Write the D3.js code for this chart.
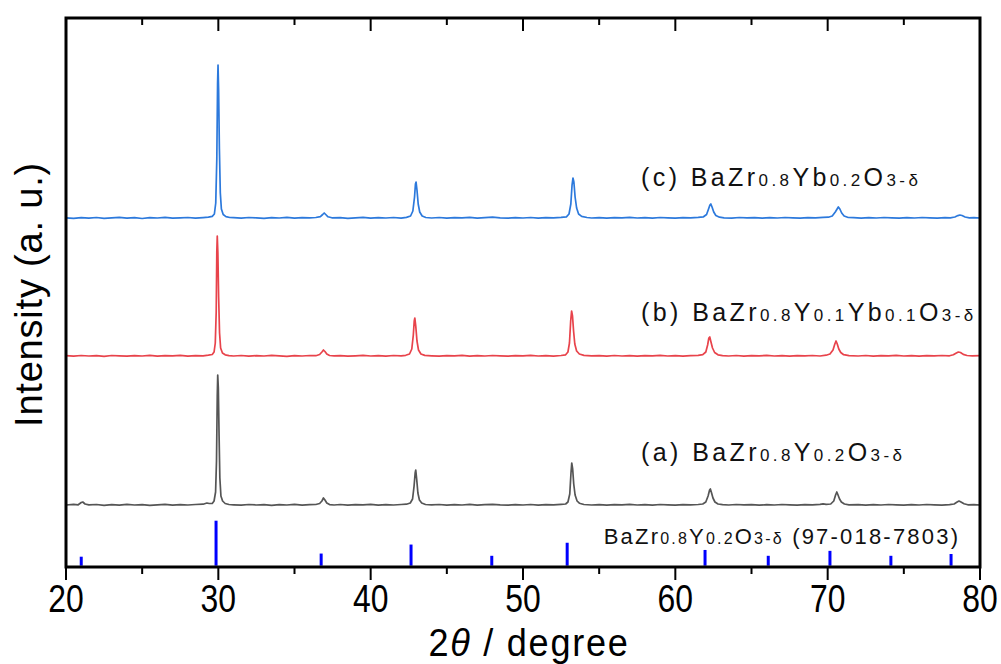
<!DOCTYPE html>
<html>
<head>
<meta charset="utf-8">
<script src="https://cdn.jsdelivr.net/npm/d3@7"></script>
<style>
    body { margin: 0; background: #fff; }
    text { font-family: "Liberation Sans", Arial, sans-serif; }
</style>
</head>
<body>
<div id="chart"></div>
<script>

// x ticks
const majorTicks = [20, 30, 40, 50, 60, 70, 80]
const minorTicks = [25, 35, 45, 55, 65, 75]

// reference pattern BaZr0.8Y0.2O3-d (97-018-7803), relative intensity %
const refPos = [21.0, 29.85, 36.75, 42.65, 47.95, 52.9, 61.95, 66.1, 70.15, 74.15, 78.1]
const refInt = [20, 100, 27, 47, 22, 51, 35, 22, 33, 22, 26]

// vertical offsets of the three patterns (a.u.)
const offsets = {a: 61, b: 210, c: 348}

// (a) BaZr0.8Y0.2O3-d  [2theta, intensity]
const patternA = [
    [20.0,1.0],[20.5,1.6],[20.8,1.2],[21.0,3.5],[21.1,4],[21.25,2],[21.5,1.1],[22.0,1.5],[22.5,0.7],[23.0,1.3],
    [23.5,0.9],[24.0,1.6],[24.5,1.0],[25.0,1.4],[25.5,0.6],[26.0,1.2],[26.5,1.7],[27.0,0.9],[27.5,1.4],
    [28.0,1.0],[28.5,1.5],[29.0,1.8],[29.25,3],[29.4,2.5],[29.6,2.6],[29.72,5],[29.82,14],[29.88,45],
    [29.93,110],[29.96,131],[30.0,118],[30.05,70],[30.1,28],[30.17,10],[30.28,5],[30.45,2.5],[30.7,1.5],
    [31.0,1.2],[31.5,0.8],[32.0,1.5],[32.5,1.0],[33.0,1.4],[33.5,0.7],[34.0,1.3],[34.5,1.0],[35.0,1.6],
    [35.5,0.9],[36.0,1.3],[36.4,1.5],[36.65,2.5],[36.8,5],[36.9,8],[37.0,6],[37.12,3],[37.3,1.4],
    [37.6,1.0],[38.0,1.5],[38.5,0.8],[39.0,1.3],[39.5,1.1],[40.0,1.6],[40.5,0.9],[41.0,1.4],[41.5,1.0],
    [42.0,1.5],[42.35,1.8],[42.6,3],[42.75,7],[42.85,20],[42.92,33],[42.96,36],[43.02,27],[43.1,13],
    [43.2,6],[43.35,3],[43.6,1.5],[44.0,1.1],[44.5,1.5],[45.0,0.8],[45.5,1.3],[46.0,1.0],[46.5,1.6],
    [47.0,0.9],[47.5,1.4],[48.0,1.7],[48.5,1.1],[49.0,0.8],[49.5,1.4],[50.0,1.0],[50.5,1.5],[51.0,0.9],
    [51.5,1.3],[52.0,1.1],[52.5,1.6],[52.8,2],[52.95,4],[53.07,12],[53.15,33],[53.2,43],[53.26,37],
    [53.33,22],[53.42,11],[53.55,5],[53.7,2.8],[54.0,1.5],[54.5,1.0],[55.0,1.4],[55.5,0.8],[56.0,1.3],
    [56.5,1.1],[57.0,1.6],[57.5,1.0],[58.0,1.4],[58.5,0.9],[59.0,1.5],[59.5,1.2],[60.0,0.8],[60.5,1.4],
    [61.0,1.1],[61.5,1.5],[61.8,2],[62.0,4],[62.15,10],[62.25,16],[62.3,17],[62.38,13],[62.47,8],
    [62.6,4],[62.8,2],[63.1,1.3],[63.5,1.0],[64.0,1.5],[64.5,1.1],[65.0,1.4],[65.5,0.8],[66.0,1.3],
    [66.5,1.0],[67.0,1.5],[67.5,1.2],[68.0,0.9],[68.5,1.4],[69.0,1.1],[69.5,1.7],[69.7,2.2],[69.9,1.6],
    [70.2,2],[70.4,5],[70.52,11],[70.6,14],[70.68,11],[70.78,7],[70.9,4],[71.1,2],[71.4,1.2],[72.0,1.4],
    [72.5,0.9],[73.0,1.3],[73.5,1.0],[74.0,1.5],[74.5,1.1],[75.0,0.8],[75.5,1.4],[76.0,1.0],[76.5,1.5],
    [77.0,1.2],[77.5,0.9],[78.0,1.4],[78.3,2],[78.5,4],[78.62,5],[78.75,4],[78.95,2.2],[79.2,1.2],
    [79.6,1.4],[80.0,1.0]
]

// (b) BaZr0.8Y0.1Yb0.1O3-d
const patternB = [
    [20.0,1.4],[20.5,0.8],[21.0,1.5],[21.5,1.0],[22.0,1.3],[22.5,0.6],[23.0,1.5],[23.5,1.1],[24.0,0.8],
    [24.5,1.4],[25.0,1.0],[25.5,1.6],[26.0,0.9],[26.5,1.3],[27.0,1.1],[27.5,1.7],[28.0,0.8],[28.5,1.4],
    [29.0,1.2],[29.35,1.8],[29.6,2.5],[29.72,5],[29.8,14],[29.86,45],[29.9,105],[29.93,121],[29.97,104],
    [30.02,60],[30.08,24],[30.15,9],[30.27,4],[30.45,2.2],[30.7,1.4],[31.0,1.0],[31.5,1.5],[32.0,0.9],
    [32.5,1.3],[33.0,1.0],[33.5,1.6],[34.0,1.1],[34.5,0.7],[35.0,1.4],[35.5,1.0],[36.0,1.5],[36.4,1.3],
    [36.65,2.5],[36.8,5],[36.9,7],[37.0,5.5],[37.12,3],[37.3,1.5],[37.6,1.1],[38.0,1.4],[38.5,0.8],
    [39.0,1.2],[39.5,1.6],[40.0,1.0],[40.5,1.4],[41.0,0.9],[41.5,1.5],[42.0,1.1],[42.3,1.7],[42.55,3],
    [42.7,8],[42.8,22],[42.86,36],[42.9,39],[42.96,31],[43.04,16],[43.14,7],[43.3,3],[43.55,1.6],
    [44.0,1.2],[44.5,0.8],[45.0,1.4],[45.5,1.1],[46.0,1.6],[46.5,0.9],[47.0,1.3],[47.5,1.0],[48.0,1.5],
    [48.5,1.2],[49.0,0.8],[49.5,1.4],[50.0,1.1],[50.5,1.6],[51.0,1.0],[51.5,1.3],[52.0,0.9],[52.5,1.5],
    [52.8,2.2],[52.95,5],[53.05,14],[53.13,36],[53.19,46],[53.25,41],[53.32,26],[53.4,13],[53.52,6],
    [53.7,3],[54.0,1.6],[54.5,1.1],[55.0,1.4],[55.5,0.9],[56.0,1.5],[56.5,1.0],[57.0,1.3],[57.5,0.8],
    [58.0,1.4],[58.5,1.1],[59.0,1.6],[59.5,1.0],[60.0,1.4],[60.5,0.9],[61.0,1.3],[61.5,1.6],[61.8,2.3],
    [62.0,5],[62.12,12],[62.2,19],[62.26,20],[62.34,15],[62.44,9],[62.58,4.5],[62.8,2.2],[63.1,1.4],
    [63.5,1.0],[64.0,1.5],[64.5,0.9],[65.0,1.3],[65.5,1.1],[66.0,1.6],[66.5,1.0],[67.0,1.4],[67.5,0.8],
    [68.0,1.3],[68.5,1.1],[69.0,1.5],[69.5,1.0],[69.9,1.8],[70.15,3],[70.35,7],[70.47,13],[70.55,16],
    [70.63,13],[70.73,8],[70.86,4.5],[71.05,2.3],[71.4,1.3],[72.0,1.0],[72.5,1.5],[73.0,0.9],[73.5,1.3],
    [74.0,1.1],[74.5,1.6],[75.0,1.0],[75.5,1.4],[76.0,0.9],[76.5,1.3],[77.0,1.1],[77.5,1.5],[78.0,1.2],
    [78.25,2.2],[78.45,4],[78.58,5],[78.72,4.5],[78.9,2.6],[79.15,1.5],[79.5,1.1],[80.0,1.3]
]

// (c) BaZr0.8Yb0.2O3-d
const patternC = [
    [20.0,1.2],[20.5,0.6],[21.0,1.4],[21.5,0.8],[22.0,1.5],[22.5,0.7],[23.0,1.1],[23.5,1.6],[24.0,0.9],
    [24.5,1.3],[25.0,0.5],[25.5,1.4],[26.0,1.0],[26.5,1.7],[27.0,0.8],[27.5,1.2],[28.0,1.5],[28.5,0.9],
    [29.0,1.4],[29.35,1.8],[29.6,2.6],[29.74,5],[29.83,16],[29.9,60],[29.95,135],[29.98,154],[30.02,128],
    [30.07,70],[30.13,26],[30.2,10],[30.32,4.5],[30.5,2.4],[30.75,1.5],[31.0,1.3],[31.5,0.8],[32.0,1.5],
    [32.5,1.1],[33.0,0.6],[33.5,1.4],[34.0,1.0],[34.5,1.6],[35.0,0.8],[35.5,1.3],[36.0,1.1],[36.4,1.5],
    [36.7,2.4],[36.85,4.5],[36.95,6],[37.05,4.5],[37.2,2.2],[37.45,1.2],[38.0,1.4],[38.5,0.7],[39.0,1.2],
    [39.5,1.6],[40.0,0.9],[40.5,1.3],[41.0,1.0],[41.5,1.5],[42.0,0.8],[42.35,1.6],[42.62,3],[42.77,8],
    [42.88,22],[42.94,35],[42.98,37],[43.04,29],[43.12,15],[43.22,7],[43.38,3],[43.62,1.5],[44.0,1.0],
    [44.5,1.5],[45.0,0.8],[45.5,1.3],[46.0,1.1],[46.5,1.6],[47.0,0.9],[47.5,1.4],[48.0,1.8],[48.5,1.2],
    [49.0,0.8],[49.5,1.3],[50.0,1.0],[50.5,1.5],[51.0,0.9],[51.5,1.4],[52.0,1.1],[52.5,1.6],[52.85,2.2],
    [53.02,5],[53.14,15],[53.22,34],[53.28,41],[53.34,37],[53.42,22],[53.52,11],[53.65,5],[53.85,2.6],
    [54.2,1.5],[54.5,1.0],[55.0,1.4],[55.5,0.8],[56.0,1.3],[56.5,1.1],[57.0,1.6],[57.5,1.0],[58.0,1.4],
    [58.5,0.9],[59.0,1.5],[59.5,1.2],[60.0,0.8],[60.5,1.4],[61.0,1.1],[61.5,1.6],[61.85,2.2],[62.05,4.5],
    [62.18,10],[62.27,14],[62.33,15],[62.41,12],[62.52,7],[62.66,3.5],[62.9,1.8],[63.2,1.2],[63.7,0.9],
    [64.2,1.5],[64.7,1.1],[65.2,1.4],[65.7,0.8],[66.2,1.3],[66.7,1.0],[67.2,1.5],[67.7,1.2],[68.2,0.9],
    [68.7,1.4],[69.2,1.1],[69.7,1.6],[70.05,1.8],[70.3,3],[70.5,7],[70.62,10],[70.7,12],[70.8,10],
    [70.92,6],[71.08,3],[71.35,1.5],[71.7,1.4],[72.2,0.9],[72.7,1.3],[73.2,1.0],[73.7,1.5],[74.2,1.1],
    [74.7,0.8],[75.2,1.4],[75.7,1.0],[76.2,1.5],[76.7,1.2],[77.2,0.9],[77.7,1.3],[78.05,1.2],[78.35,2],
    [78.55,3.4],[78.68,4],[78.82,3.5],[79.02,2],[79.3,1.1],[79.6,1.4],[80.0,1.0]
]

const series = [
    {key: "a", data: patternA, color: "#555555", sub: [["(a) BaZr", 0], ["0.8", 1], ["Y", 0], ["0.2", 1], ["O", 0], ["3-δ", 1]]},
    {key: "b", data: patternB, color: "#e8434b", sub: [["(b) BaZr", 0], ["0.8", 1], ["Y", 0], ["0.1", 1], ["Yb", 0], ["0.1", 1], ["O", 0], ["3-δ", 1]]},
    {key: "c", data: patternC, color: "#2c79dc", sub: [["(c) BaZr", 0], ["0.8", 1], ["Yb", 0], ["0.2", 1], ["O", 0], ["3-δ", 1]]}
]
const refLabel = [["BaZr", 0], ["0.8", 1], ["Y", 0], ["0.2", 1], ["O", 0], ["3-δ", 1], [" (97-018-7803)", 0]]


const margin = {top: 18, right: 21, bottom: 97, left: 66}
const W = 1001, H = 664
const width = W - margin.left - margin.right
const height = H - margin.top - margin.bottom

const svg = d3.select("#chart").append("svg")
    .attr("width", W)
    .attr("height", H)

const g = svg.append("g")
    .attr("transform", `translate(${margin.left},${margin.top})`)

// scales
const x = d3.scaleLinear().domain([20, 80]).range([0, width])
const y = d3.scaleLinear().domain([0, height]).range([height, 0])
const refScale = d3.scaleLinear().domain([0, 100]).range([0, 45])

// reference bars
g.selectAll(".ref")
    .data(refPos)
    .enter().append("line")
    .attr("class", "ref")
    .attr("x1", d => x(d)).attr("x2", d => x(d))
    .attr("y1", y(1.3))
    .attr("y2", (d, i) => y(1.3 + refScale(refInt[i])))
    .attr("stroke", "#0000ff")
    .attr("stroke-width", 3)

// patterns
const line = d3.line()
    .x(d => x(d[0]))

series.forEach(s => {
    const pts = d3.sort(s.data, d => d[0])
    g.append("path")
        .attr("fill", "none")
        .attr("stroke", s.color)
        .attr("stroke-width", 1.7)
        .attr("stroke-linejoin", "round")
        .attr("d", line.y(d => y(offsets[s.key] + d[1]))(pts))
})

// labels with subscripts
function addLabel(parts, xPos, yPos, size, subSize, spacing) {
    const t = g.append("text")
        .attr("x", xPos)
        .attr("y", yPos)
        .attr("font-size", size)
        .attr("letter-spacing", spacing)
        .attr("fill", "#111")
    parts.forEach(p => {
        t.append("tspan")
            .attr("font-size", p[1] ? subSize : size)
            .text(p[0])
    })
}

addLabel(series[2].sub, x(57.75), y(offsets.c + 33), 25, 17, 3.4)
addLabel(series[1].sub, x(57.75), y(offsets.b + 36), 25, 17, 3.4)
addLabel(series[0].sub, x(57.75), y(offsets.a + 45), 25, 17, 3.4)
addLabel(refLabel, x(55.3), y(23), 22, 16, 2.2)

// frame
g.append("rect")
    .attr("width", width)
    .attr("height", height)
    .attr("fill", "none")
    .attr("stroke", "#000")
    .attr("stroke-width", 3)

// bottom axis, ticks outward
const bottom = g.append("g").attr("transform", `translate(0,${height})`)
bottom.selectAll(".maj").data(majorTicks).enter().append("line")
    .attr("x1", d => x(d)).attr("x2", d => x(d))
    .attr("y1", 0).attr("y2", 13)
    .attr("stroke", "#000").attr("stroke-width", 2)
bottom.selectAll(".min").data(minorTicks).enter().append("line")
    .attr("x1", d => x(d)).attr("x2", d => x(d))
    .attr("y1", 0).attr("y2", 7)
    .attr("stroke", "#000").attr("stroke-width", 2)
// condensed tick labels
bottom.selectAll(".lab").data(majorTicks).enter().append("text")
    .attr("transform", d => `translate(${x(d)},45) scale(0.84,1)`)
    .attr("text-anchor", "middle")
    .attr("font-size", 38)
    .text(d => d)

// top ticks, inward
g.selectAll(".tmaj").data(majorTicks).enter().append("line")
    .attr("x1", d => x(d)).attr("x2", d => x(d))
    .attr("y1", 0).attr("y2", 13)
    .attr("stroke", "#000").attr("stroke-width", 2)
g.selectAll(".tmin").data(minorTicks).enter().append("line")
    .attr("x1", d => x(d)).attr("x2", d => x(d))
    .attr("y1", 0).attr("y2", 7)
    .attr("stroke", "#000").attr("stroke-width", 2)

// axis titles
const xt = g.append("text")
    .attr("transform", `translate(${width / 2 + 6},${height + 89}) scale(0.95,1)`)
    .attr("text-anchor", "middle")
    .attr("font-size", 38)
    .attr("letter-spacing", 1.8)
xt.append("tspan").text("2")
xt.append("tspan").attr("font-style", "italic").text("θ")
xt.append("tspan").text(" / degree")

g.append("text")
    .attr("transform", `translate(${-24},${height / 2 + 2}) rotate(-90)`)
    .attr("text-anchor", "middle")
    .attr("font-size", 38)
    .attr("letter-spacing", 0.8)
    .text("Intensity (a. u.)")

</script>
</body>
</html>
